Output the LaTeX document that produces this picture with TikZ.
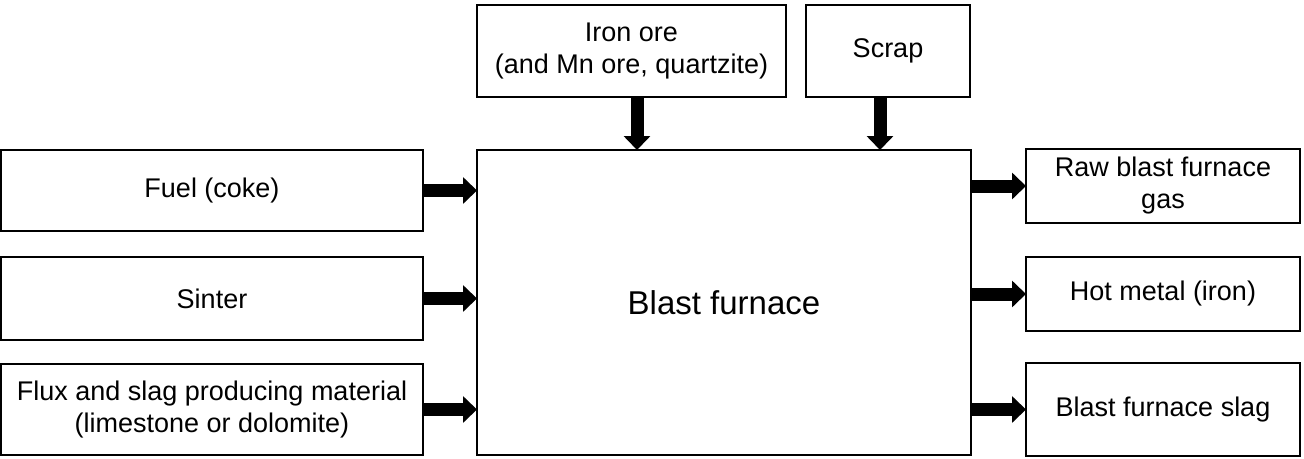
\documentclass[tikz,border=0pt]{standalone}
\usepackage{fontspec}
\setmainfont{Liberation Sans}
\usetikzlibrary{arrows.meta}
\begin{document}
\begin{tikzpicture}[x=1pt,y=-1pt,
  box/.style={draw=black,line width=1.6pt,rectangle,inner sep=0pt,outer sep=0pt,align=center,
    font=\fontsize{27}{32}\selectfont},
  blk/.style={line width=13pt,-{Triangle[length=14pt,width=26pt]}}]
\useasboundingbox (0,0) rectangle (1304,458);
\node[box,minimum width=309pt,minimum height=92pt] (iron) at (631.5,51) {Iron ore\\(and Mn ore, quartzite)};
\node[box,minimum width=164pt,minimum height=92pt] (scrap) at (888,51) {Scrap};
\node[box,minimum width=494pt,minimum height=305pt,font=\fontsize{33}{40}\selectfont] (bf) at (724,302.5) {Blast furnace};
\node[box,minimum width=422pt,minimum height=81pt] (fuel) at (212,190.5) {Fuel (coke)};
\node[box,minimum width=422pt,minimum height=83pt] (sinter) at (212,298.5) {Sinter};
\node[box,minimum width=422pt,minimum height=91pt] (flux) at (212,409.5) {Flux and slag producing material\\(limestone or dolomite)};
\node[box,minimum width=274pt,minimum height=74pt] (gas) at (1163,186) {Raw blast furnace\\gas};
\node[box,minimum width=274pt,minimum height=74pt] (hot) at (1163,294) {Hot metal (iron)};
\node[box,minimum width=274pt,minimum height=93pt] (slag) at (1163,409.5) {Blast furnace slag};
\coordinate (ironx) at (637,0);
\coordinate (scrapx) at (880,0);
\draw[blk] (iron.south -| ironx) -- (bf.north -| ironx);
\draw[blk] (scrap.south -| scrapx) -- (bf.north -| scrapx);
\draw[blk] (fuel.east) -- (bf.west |- fuel.east);
\draw[blk] (sinter.east) -- (bf.west |- sinter.east);
\draw[blk] (flux.east) -- (bf.west |- flux.east);
\draw[blk] (bf.east |- gas.west) -- (gas.west);
\draw[blk] (bf.east |- hot.west) -- (hot.west);
\draw[blk] (bf.east |- slag.west) -- (slag.west);
\end{tikzpicture}
\end{document}
